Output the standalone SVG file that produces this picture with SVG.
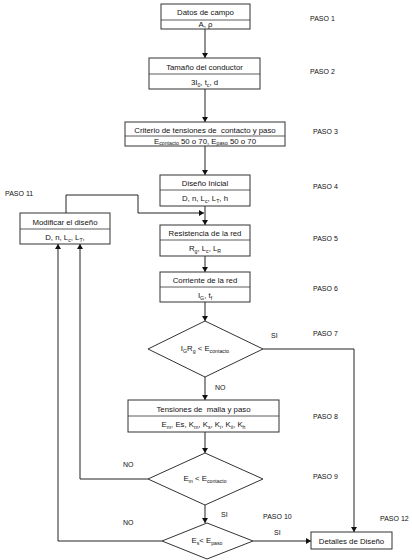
<svg xmlns="http://www.w3.org/2000/svg" width="412" height="560" viewBox="0 0 412 560">
<style>
.box{fill:#fff;stroke:#333;stroke-width:1}
.div{stroke:#333;stroke-width:0.8}
.ln{fill:none;stroke:#222;stroke-width:1}
text{font-family:"Liberation Sans",Arial,sans-serif;font-size:7.8px;fill:#111;text-anchor:middle;white-space:pre}
.lbl{font-size:7px;text-anchor:start}
.s{font-size:5.2px}
</style>
<defs>
<marker id="ar" markerWidth="6" markerHeight="6" refX="5" refY="3" orient="auto" markerUnits="userSpaceOnUse">
<path d="M0,0 L5,3 L0,6 Z" fill="#111"/>
</marker>
</defs>
<rect width="412" height="560" fill="#fff"/>

<g id="connectors">
<line class="ln" x1="205" y1="29" x2="205" y2="58" marker-end="url(#ar)"/>
<line class="ln" x1="205" y1="89" x2="205" y2="122" marker-end="url(#ar)"/>
<line class="ln" x1="205" y1="146" x2="205" y2="175" marker-end="url(#ar)"/>
<line class="ln" x1="205" y1="206" x2="205" y2="225" marker-end="url(#ar)"/>
<polyline class="ln" points="66,213 66,195 138,195 138,213 204,213" marker-end="url(#ar)"/>
<line class="ln" x1="205" y1="256" x2="205" y2="272" marker-end="url(#ar)"/>
<line class="ln" x1="205" y1="302" x2="205" y2="321" marker-end="url(#ar)"/>
<line class="ln" x1="205" y1="377" x2="205" y2="400" marker-end="url(#ar)"/>
<polyline class="ln" points="263,349 354,349 354,532" marker-end="url(#ar)"/>
<line class="ln" x1="205" y1="432" x2="205" y2="453" marker-end="url(#ar)"/>
<polyline class="ln" points="148,479 80,479 80,244" marker-end="url(#ar)"/>
<line class="ln" x1="205" y1="505" x2="205" y2="523" marker-end="url(#ar)"/>
<polyline class="ln" points="162,541 58,541 58,244" marker-end="url(#ar)"/>
<line class="ln" x1="253" y1="541" x2="311" y2="541" marker-end="url(#ar)"/>
</g>

<g id="paso1">
<rect class="box" x="161" y="4" width="89" height="25"/>
<line class="div" x1="161" y1="20" x2="250" y2="20"/>
<text x="205.5" y="15">Datos de campo</text>
<text x="205.5" y="27">A, ρ</text>
</g>

<g id="paso2">
<rect class="box" x="149" y="58" width="111" height="31"/>
<line class="div" x1="149" y1="74" x2="260" y2="74"/>
<text x="204.5" y="70">Tamaño del conductor</text>
<text x="204.5" y="85">3I<tspan class="s" dy="1.5">0</tspan><tspan dy="-1.5">, t</tspan><tspan class="s" dy="1.5">c</tspan><tspan dy="-1.5">, d</tspan></text>
</g>

<g id="paso3">
<rect class="box" x="125" y="122" width="160" height="24"/>
<line class="div" x1="125" y1="136" x2="285" y2="136"/>
<text x="205" y="133">Criterio de tensiones de  contacto y paso</text>
<text x="205" y="143.5">E<tspan class="s" dy="1.5">contacto</tspan><tspan dy="-1.5"> 50 o 70, E</tspan><tspan class="s" dy="1.5">paso</tspan><tspan dy="-1.5"> 50 o 70</tspan></text>
</g>

<g id="paso4">
<rect class="box" x="160" y="175" width="90" height="31"/>
<line class="div" x1="160" y1="190" x2="250" y2="190"/>
<text x="205" y="186">Diseño Inicial</text>
<text x="205" y="201">D, n, L<tspan class="s" dy="1.5">c</tspan><tspan dy="-1.5">, L</tspan><tspan class="s" dy="1.5">T</tspan><tspan dy="-1.5">, h</tspan></text>
</g>

<g id="paso11">
<rect class="box" x="20" y="213" width="90" height="31"/>
<line class="div" x1="20" y1="229" x2="110" y2="229"/>
<text x="65" y="225">Modificar el diseño</text>
<text x="65" y="240">D, n, L<tspan class="s" dy="1.5">c</tspan><tspan dy="-1.5">, L</tspan><tspan class="s" dy="1.5">T</tspan><tspan dy="-1.5">,</tspan></text>
</g>

<g id="paso5">
<rect class="box" x="160" y="225" width="90" height="31"/>
<line class="div" x1="160" y1="240" x2="250" y2="240"/>
<text x="205" y="236">Resistencia de la red</text>
<text x="205" y="251">R<tspan class="s" dy="1.5">g</tspan><tspan dy="-1.5">, L</tspan><tspan class="s" dy="1.5">c</tspan><tspan dy="-1.5">, L</tspan><tspan class="s" dy="1.5">R</tspan></text>
</g>

<g id="paso6">
<rect class="box" x="160" y="272" width="90" height="30"/>
<line class="div" x1="160" y1="287" x2="250" y2="287"/>
<text x="205" y="283">Corriente de la red</text>
<text x="205" y="298">I<tspan class="s" dy="1.5">G</tspan><tspan dy="-1.5">, t</tspan><tspan class="s" dy="1.5">f</tspan></text>
</g>

<g id="paso7">
<polygon class="box" points="205,321 263,349 205,377 148,349"/>
<text x="205" y="351">I<tspan class="s" dy="1.5">G</tspan><tspan dy="-1.5">R</tspan><tspan class="s" dy="1.5">g</tspan><tspan dy="-1.5"> &lt; E</tspan><tspan class="s" dy="1.5">contacto</tspan></text>
</g>

<g id="paso8">
<rect class="box" x="128" y="400" width="151" height="32"/>
<line class="div" x1="128" y1="416" x2="279" y2="416"/>
<text x="203.5" y="412">Tensiones de  malla y paso</text>
<text x="203.5" y="427">E<tspan class="s" dy="1.5">m</tspan><tspan dy="-1.5">, Es, K</tspan><tspan class="s" dy="1.5">m</tspan><tspan dy="-1.5">, K</tspan><tspan class="s" dy="1.5">s</tspan><tspan dy="-1.5">, K</tspan><tspan class="s" dy="1.5">i</tspan><tspan dy="-1.5">, K</tspan><tspan class="s" dy="1.5">ii</tspan><tspan dy="-1.5">, K</tspan><tspan class="s" dy="1.5">h</tspan></text>
</g>

<g id="paso9">
<polygon class="box" points="205,453 263,479 205,505 148,479"/>
<text x="205" y="481">E<tspan class="s" dy="1.5">m</tspan><tspan dy="-1.5"> &lt; E</tspan><tspan class="s" dy="1.5">contacto</tspan></text>
</g>

<g id="paso10">
<polygon class="box" points="207,523 253,541 207,559 162,541"/>
<text x="207" y="543">E<tspan class="s" dy="1.5">s</tspan><tspan dy="-1.5">&lt; E</tspan><tspan class="s" dy="1.5">paso</tspan></text>
</g>

<g id="paso12">
<rect class="box" x="311" y="532" width="81" height="17"/>
<text x="351.5" y="543.5">Detalles de Diseño</text>
</g>

<g id="labels">
<text class="lbl" x="310" y="21">PASO 1</text>
<text class="lbl" x="310" y="74">PASO 2</text>
<text class="lbl" x="313" y="134">PASO 3</text>
<text class="lbl" x="313" y="189">PASO 4</text>
<text class="lbl" x="313" y="241">PASO 5</text>
<text class="lbl" x="313" y="291">PASO 6</text>
<text class="lbl" x="313" y="336">PASO 7</text>
<text class="lbl" x="313" y="419">PASO 8</text>
<text class="lbl" x="313" y="479">PASO 9</text>
<text class="lbl" x="263" y="519">PASO 10</text>
<text class="lbl" x="380" y="521">PASO 12</text>
<text class="lbl" x="5" y="196">PASO 11</text>
<text class="lbl" x="271" y="338">SI</text>
<text class="lbl" x="215" y="390">NO</text>
<text class="lbl" x="123" y="467">NO</text>
<text class="lbl" x="221" y="517">SI</text>
<text class="lbl" x="123" y="525">NO</text>
<text class="lbl" x="274" y="535">SI</text>
</g>
</svg>
